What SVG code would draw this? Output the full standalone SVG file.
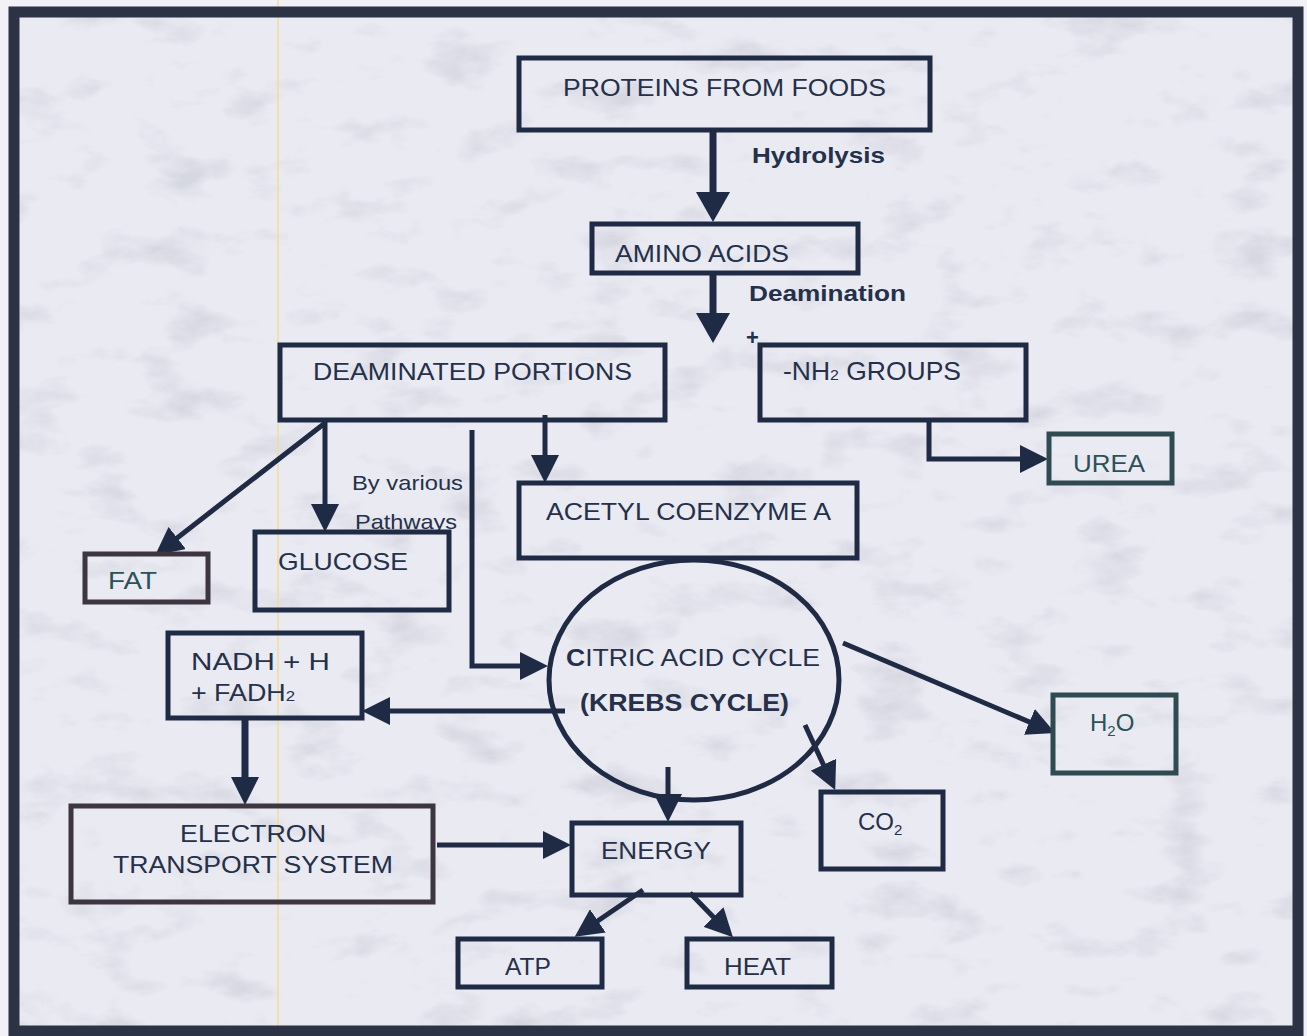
<svg xmlns="http://www.w3.org/2000/svg" width="1307" height="1036" viewBox="0 0 1307 1036">
  <defs>
    <!-- light marble texture for the panel -->
    <filter id="marble" x="0" y="0" width="100%" height="100%">
      <feTurbulence type="fractalNoise" baseFrequency="0.014 0.026" numOctaves="5" seed="11" result="n"/>
      <feColorMatrix in="n" type="matrix" values="0 0 0 0 0.42  0 0 0 0 0.43  0 0 0 0 0.5  -3.2 0 0 0 1.45" result="veins"/>
      <feGaussianBlur in="veins" stdDeviation="0.4"/>
    </filter>
    <marker id="big" viewBox="0 0 30 34" markerWidth="30" markerHeight="34" refX="20" refY="17" orient="auto" markerUnits="userSpaceOnUse">
      <path d="M0,0 L30,17 L0,34 z" fill="#1f2a44"/>
    </marker>
    <marker id="mid" viewBox="0 0 28 28" markerWidth="28" markerHeight="28" refX="18" refY="14" orient="auto" markerUnits="userSpaceOnUse">
      <path d="M0,0 L28,14 L0,28 z" fill="#1f2a44"/>
    </marker>
    <style>
      .box { fill: none; stroke: #1f2a44; stroke-width: 5; }
      .box2 { fill: none; stroke: #3d3540; stroke-width: 5; }
      .lbl { font-family: "Liberation Sans", Arial, sans-serif; font-size: 24px; fill: #25304a; }
      .teal { fill: #2a5257; }
      .bold { font-weight: bold; font-size: 22px; }
      .small { font-size: 21px; }
      .sub { font-size: 15px; }
      .conn path, .conn line { fill: none; stroke: #1f2a44; stroke-width: 7; }
      .thin { stroke-width: 5 !important; }
    </style>
  </defs>

  <!-- page and marble panel -->
  <rect x="0" y="0" width="1307" height="1036" fill="#f1f1f6"/>
  <rect x="14" y="12" width="1284" height="1019" fill="#e9eaf2"/>
  <rect x="14" y="12" width="1284" height="1019" filter="url(#marble)" opacity="0.3"/>
  <line x1="278" y1="0" x2="278" y2="1036" stroke="#f2dc9a" stroke-width="1.5"/>
  <rect x="14" y="12" width="1284" height="1019" fill="none" stroke="#2c3345" stroke-width="11"/>

  <!-- connectors -->
  <g id="connectors" class="conn">
    <line x1="713" y1="130" x2="713" y2="212" marker-end="url(#big)"/>
    <line x1="713" y1="273" x2="713" y2="333" marker-end="url(#big)"/>
    <path d="M929,420 V459 H1038" class="thin" marker-end="url(#mid)"/>
    <path d="M325,420 V522" class="thin" marker-end="url(#mid)"/>
    <line x1="325" y1="423" x2="163" y2="549" class="thin" marker-end="url(#mid)"/>
    <path d="M472,430 V666 H538" class="thin" marker-end="url(#mid)"/>
    <path d="M545,415 V473" class="thin" marker-end="url(#mid)"/>
    <path d="M565,711 H372" class="thin" marker-end="url(#mid)"/>
    <path d="M245,718 V795" marker-end="url(#mid)"/>
    <path d="M437,845 H561" class="thin" marker-end="url(#mid)"/>
    <path d="M668,767 V812" class="thin" marker-end="url(#mid)"/>
    <line x1="643" y1="890" x2="583" y2="931" class="thin" marker-end="url(#mid)"/>
    <line x1="690" y1="893" x2="726" y2="930" class="thin" marker-end="url(#mid)"/>
    <line x1="843" y1="643" x2="1046" y2="729" class="thin" marker-end="url(#mid)"/>
    <line x1="805" y1="725" x2="831" y2="781" class="thin" marker-end="url(#mid)"/>
  </g>

  <!-- process labels on connectors -->
  <text class="lbl bold" x="752" y="163" textLength="133" lengthAdjust="spacingAndGlyphs">Hydrolysis</text>
  <text class="lbl bold" x="749" y="301" textLength="157" lengthAdjust="spacingAndGlyphs">Deamination</text>
  <text class="lbl bold" x="746" y="345" style="font-size:22px">+</text>
  <text class="lbl small" x="352" y="490" textLength="111" lengthAdjust="spacingAndGlyphs">By various</text>
  <text class="lbl small" x="355" y="529" textLength="102" lengthAdjust="spacingAndGlyphs">Pathways</text>

  <g id="proteins">
    <rect class="box" x="519" y="58" width="411" height="72"/>
    <text class="lbl" x="563" y="96" textLength="323" lengthAdjust="spacingAndGlyphs">PROTEINS FROM FOODS</text>
  </g>
  <g id="amino-acids">
    <rect class="box" x="592" y="224" width="266" height="49"/>
    <text class="lbl" x="615" y="262" textLength="174" lengthAdjust="spacingAndGlyphs">AMINO ACIDS</text>
  </g>
  <g id="deaminated">
    <rect class="box" x="280" y="345" width="385" height="75"/>
    <text class="lbl" x="313" y="380" textLength="319" lengthAdjust="spacingAndGlyphs">DEAMINATED PORTIONS</text>
  </g>
  <g id="nh2">
    <rect class="box" x="760" y="345" width="266" height="75"/>
    <text class="lbl" x="783" y="380" style="font-size:25px" textLength="178" lengthAdjust="spacingAndGlyphs">-NH<tspan class="sub">2</tspan> GROUPS</text>
  </g>
  <g id="urea">
    <rect class="box2" x="1049" y="434" width="123" height="49" style="stroke:#2f4a50"/>
    <text class="lbl teal" x="1073" y="472" textLength="72" lengthAdjust="spacingAndGlyphs">UREA</text>
  </g>
  <g id="fat">
    <rect class="box2" x="85" y="554" width="123" height="48"/>
    <text class="lbl teal" x="108" y="589" textLength="49" lengthAdjust="spacingAndGlyphs">FAT</text>
  </g>
  <g id="glucose">
    <rect class="box" x="255" y="532" width="194" height="78"/>
    <text class="lbl" x="278" y="570" textLength="130" lengthAdjust="spacingAndGlyphs">GLUCOSE</text>
  </g>
  <g id="acetyl">
    <rect class="box" x="519" y="483" width="338" height="75"/>
    <text class="lbl" x="546" y="520" textLength="285" lengthAdjust="spacingAndGlyphs">ACETYL COENZYME A</text>
  </g>
  <g id="krebs">
    <ellipse cx="694" cy="680" rx="145" ry="120" fill="none" stroke="#1f2a44" stroke-width="5"/>
    <text class="lbl" x="566" y="666" textLength="254" lengthAdjust="spacingAndGlyphs"><tspan font-weight="bold">C</tspan>ITRIC ACID CYCLE</text>
    <text class="lbl bold" x="580" y="711" style="font-size:23px" textLength="209" lengthAdjust="spacingAndGlyphs">(KREBS CYCLE)</text>
  </g>
  <g id="nadh">
    <rect class="box" x="168" y="633" width="194" height="85"/>
    <text class="lbl" x="191" y="670" textLength="139" lengthAdjust="spacingAndGlyphs">NADH + H</text>
    <text class="lbl" x="191" y="701" textLength="104" lengthAdjust="spacingAndGlyphs">+ FADH<tspan class="sub">2</tspan></text>
  </g>
  <g id="h2o">
    <rect class="box2" x="1053" y="695" width="123" height="78" style="stroke:#2f4a50"/>
    <text class="lbl teal" x="1090" y="731">H<tspan class="sub" dy="5">2</tspan><tspan dy="-5">O</tspan></text>
  </g>
  <g id="co2">
    <rect class="box" x="821" y="792" width="122" height="77"/>
    <text class="lbl" x="858" y="830">CO<tspan class="sub" dy="5">2</tspan></text>
  </g>
  <g id="ets">
    <rect class="box2" x="71" y="806" width="362" height="96"/>
    <text class="lbl" x="253" y="842" text-anchor="middle" textLength="146" lengthAdjust="spacingAndGlyphs">ELECTRON</text>
    <text class="lbl" x="253" y="873" text-anchor="middle" textLength="280" lengthAdjust="spacingAndGlyphs">TRANSPORT SYSTEM</text>
  </g>
  <g id="energy">
    <rect class="box" x="572" y="823" width="169" height="72"/>
    <text class="lbl" x="601" y="859" textLength="110" lengthAdjust="spacingAndGlyphs">ENERGY</text>
  </g>
  <g id="atp">
    <rect class="box" x="458" y="939" width="144" height="48"/>
    <text class="lbl" x="505" y="975" textLength="46" lengthAdjust="spacingAndGlyphs">ATP</text>
  </g>
  <g id="heat">
    <rect class="box" x="687" y="939" width="145" height="48"/>
    <text class="lbl" x="724" y="975" textLength="67" lengthAdjust="spacingAndGlyphs">HEAT</text>
  </g>
</svg>
